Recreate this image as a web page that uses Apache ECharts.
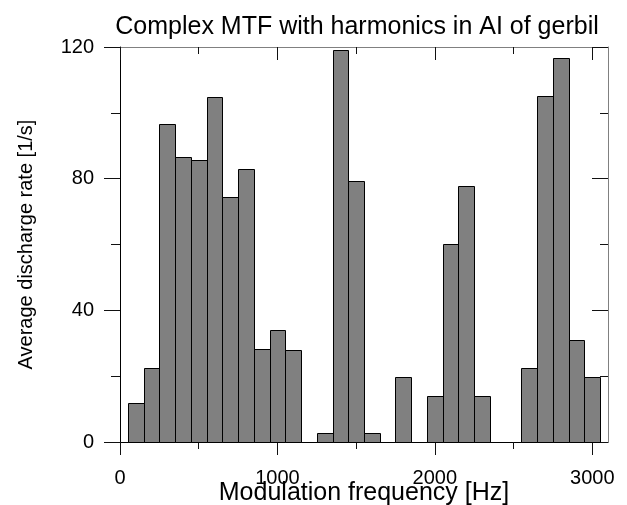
<!DOCTYPE html>
<html>
<head>
<meta charset="utf-8">
<script src="https://cdn.jsdelivr.net/npm/echarts@6/dist/echarts.min.js"></script>
<style>
  html, body { margin: 0; padding: 0; background: #fff; }
  #chart { width: 627px; height: 505px; }
</style>
</head>
<body>
<div id="chart"></div>
<script>
// bin centres (Hz) and mean discharge rate per bin (1/s)
var freqs = [100, 200, 300, 400, 500, 600, 700, 800, 900, 1000,
    1100, 1200, 1300, 1400, 1500, 1600, 1700, 1800, 1900, 2000,
    2100, 2200, 2300, 2400, 2500, 2600, 2700, 2800, 2900, 3000];
var rates = [11.7, 22.6, 96.5, 86.5, 85.6, 104.9, 74.4, 82.9, 28.3, 34.0,
    28.1, 0, 2.7, 119.1, 79.4, 2.7, 0, 19.8, 0, 14.1,
    60.2, 77.7, 14.1, 0, 0, 22.6, 105.0, 116.8, 31.1, 19.6];
var binWidth = 100;

var xMajorTicks = [0, 1000, 2000, 3000];
var xMinorTicks = [500, 1500, 2500];
var yMajorTicks = [0, 40, 80, 120];
var yMinorTicks = [20, 60, 100];

var font = "'Liberation Sans', Arial, sans-serif";

function makeAxis(extra, ticks, len, inside, lineColor, labels) {
    var ax = {
        type: 'value',
        splitLine: {show: false},
        axisLine: {show: !!lineColor, onZero: false, lineStyle: {color: lineColor || '#000', width: 1}},
        axisTick: {show: true, customValues: ticks, length: len, inside: inside,
            lineStyle: {color: '#111', width: 1}},
        axisLabel: {show: false}
    };
    if (labels) {
        ax.axisLabel = {show: true, customValues: labels, fontSize: 20, fontFamily: font, color: '#000',
            formatter: function (v) { return String(v); }};
    }
    for (var k in extra) ax[k] = extra[k];
    return ax;
}

var xBase = {min: 0, max: 3100};
var yBase = {min: 0, max: 120};

var xAxes = [
    makeAxis(Object.assign({position: 'bottom', name: 'Modulation frequency [Hz]', nameLocation: 'middle',
        nameGap: 39, nameMoveOverlap: false,
        nameTextStyle: {fontSize: 25, fontFamily: font, color: '#000'}}, xBase),
        xMajorTicks, 13, false, '#000', xMajorTicks),
    makeAxis(Object.assign({position: 'bottom'}, xBase), xMinorTicks, 7, false, null),
    makeAxis(Object.assign({position: 'top'}, xBase), xMajorTicks, 13, true, '#808080'),
    makeAxis(Object.assign({position: 'top'}, xBase), xMinorTicks, 7, true, null)
];
xAxes[0].axisLabel.margin = 26;

var yAxes = [
    makeAxis(Object.assign({position: 'left', name: 'Average discharge rate [1/s]', nameLocation: 'middle',
        nameGap: 84, nameMoveOverlap: false,
        nameTextStyle: {fontSize: 20, fontFamily: font, color: '#000'}}, yBase),
        yMajorTicks, 16, false, '#000', yMajorTicks),
    makeAxis(Object.assign({position: 'left'}, yBase), yMinorTicks, 9, false, null),
    makeAxis(Object.assign({position: 'right'}, yBase), yMajorTicks, 16, true, '#808080'),
    makeAxis(Object.assign({position: 'right'}, yBase), yMinorTicks, 8, true, null)
];
yAxes[0].axisLabel.margin = 26;

var binData = freqs.map(function (f, i) { return [f, rates[i]]; });

var myChart = echarts.init(document.getElementById('chart'), null, {renderer: 'canvas'});

var option = {
    animation: false,
    backgroundColor: '#fff',
    title: {
        text: 'Complex MTF with harmonics in AI of gerbil',
        left: 352,
        textAlign: 'center',
        top: 10,
        textStyle: {fontSize: 25, fontWeight: 'normal', fontFamily: font, color: '#000'}
    },
    grid: {left: 120, top: 47, width: 488, height: 395, containLabel: false, outerBoundsMode: 'none'},
    xAxis: xAxes,
    yAxis: yAxes,
    series: [
        {
            type: 'custom',
            xAxisIndex: 0,
            yAxisIndex: 0,
            data: binData,
            encode: {x: 0, y: 1},
            renderItem: function (params, api) {
                var f = api.value(0);
                var v = api.value(1);
                if (!v) return null;
                var p0 = api.coord([f - binWidth / 2, v]);
                var p1 = api.coord([f + binWidth / 2, 0]);
                var x0 = Math.round(p0[0]) + 0.5;
                var x1 = Math.round(p1[0]) + 0.5;
                var y0 = Math.round(p0[1]) + 0.5;
                var y1 = Math.round(p1[1]) + 0.5;
                return {
                    type: 'rect',
                    shape: {x: x0, y: y0, width: x1 - x0, height: y1 - y0},
                    style: {fill: '#808080', stroke: '#000', lineWidth: 1}
                };
            }
        }
    ]
};

myChart.setOption(option);
</script>
</body>
</html>
